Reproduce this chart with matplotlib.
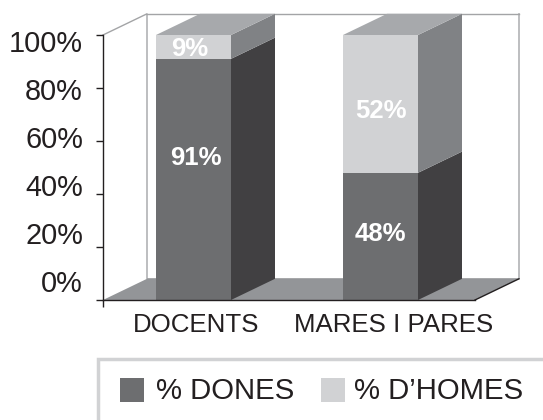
import matplotlib
matplotlib.use("Agg")
import matplotlib.pyplot as plt
from matplotlib.patches import Polygon, Rectangle

categories = ["DOCENTS", "MARES I PARES"]
dones = [91, 48]
homes = [9, 52]
series_names = ["% DONES", "% D\u2019HOMES"]
y_ticks = [0, 20, 40, 60, 80, 100]
y_tick_labels = ["0%", "20%", "40%", "60%", "80%", "100%"]

W, H = 543, 420
plt.rcParams["font.family"] = ["Liberation Sans", "DejaVu Sans"]
fig = plt.figure(figsize=(W / 100, H / 100), dpi=100)
ax = fig.add_axes([103 / W, 1 - 300 / H, (475 - 103) / W, (300 - 35) / H])

unit = 187.0
ax.set_xlim((103 - 193.5) / unit, (475 - 193.5) / unit)
ax.set_ylim(0, 100)
DX = 44 / unit
DY = 8.0
BW = 75 / unit
x0, x1 = ax.get_xlim()

DARK, DARK_SIDE = "#6d6e70", "#414042"
LIGHT, LIGHT_SIDE = "#d1d2d4", "#808285"
TOP, FLOOR = "#a7a9ac", "#939598"
WALL = "#a3a4a6"
INK = "#231f20"

def poly(pts, color, z):
    ax.add_patch(Polygon(pts, closed=True, fc=color, ec="none", zorder=z, clip_on=False))

# floor and walls
poly([(x0, 0), (x1, 0), (x1 + DX, DY), (x0 + DX, DY)], FLOOR, 1)
ax.plot([x0, x0 + DX, x0 + DX, x1 + DX, x1 + DX], [100, 100 + DY, DY, DY, 100 + DY],
        color=WALL, lw=1.0, clip_on=False, zorder=0.5)
ax.plot([x0 + DX, x1 + DX], [100 + DY, 100 + DY], color=WALL, lw=1.0, clip_on=False, zorder=0.5)

# bars
d_offset = [8, 1]
d_dx = [0.015, 0.0]
h_offset = [-0.75, -2.5]
h_dx = [-0.02, 0.003]
for i, (d, h) in enumerate(zip(dones, homes)):
    l, r = i - BW / 2, i + BW / 2
    t = d + h
    ax.bar(i, d, BW, color=DARK, zorder=3)
    ax.bar(i, h, BW, bottom=d, color=LIGHT, zorder=3, clip_on=False)
    poly([(r, 0), (r + DX, DY), (r + DX, d + DY), (r, d)], DARK_SIDE, 2)
    poly([(r, d), (r + DX, d + DY), (r + DX, t + DY), (r, t)], LIGHT_SIDE, 2)
    poly([(l, t), (r, t), (r + DX, t + DY), (l + DX, t + DY)], TOP, 2)
    ax.text(i + d_dx[i], d / 2 + d_offset[i], f"{d}%", color="white", fontsize=18.5,
            fontweight="bold", ha="center", va="center", zorder=4)
    ax.text(i + h_dx[i], d + h / 2 + h_offset[i], f"{h}%",
            color="white", fontsize=18.5, fontweight="bold", ha="center", va="center",
            zorder=4, clip_on=False)

# axes
for s in ax.spines.values():
    s.set_visible(False)
ax.patch.set_alpha(0)
ax.plot([x0, x0], [0, 100], color=INK, lw=1.0, clip_on=False, zorder=5)
ax.plot([x0, x1], [0, 0], color=INK, lw=1.0, clip_on=False, zorder=5)
ax.plot([x1, x1 + DX], [0, DY], color=INK, lw=1.0, clip_on=False, zorder=5)
ax.set_yticks(y_ticks)
ax.set_yticklabels([])
ax.tick_params(axis="y", length=5, width=1, color=INK)
ax.set_xticks([x0])
ax.set_xticklabels([])
ax.tick_params(axis="x", length=5, width=1, color=INK)

label_y = [284, 236, 188, 140, 92, 44]
for lab, py in zip(y_tick_labels, label_y):
    fig.text(83 / W, 1 - py / H, lab, ha="right", va="center", fontsize=20.8, color=INK)

for i, c in enumerate(categories):
    cx = [196.5, 394][i]
    fig.text(cx / W, 1 - 325 / H, c, ha="center", va="center", fontsize=18.6, color=INK)

# legend box
fig.add_artist(Rectangle((97.5 / W, -10 / H), 500 / W, (420 - 358.5 + 10) / H, transform=fig.transFigure,
                         fc="white", ec="#d1d2d4", lw=2.5))
for px, col, name, tx in [(120, DARK, series_names[0], 156), (321, LIGHT, series_names[1], 354)]:
    fig.add_artist(Rectangle((px / W, 1 - 402 / H), 24 / W, 24 / H, transform=fig.transFigure, fc=col, ec="none"))
    fig.text(tx / W, 1 - 391 / H, name, ha="left", va="center", fontsize=21.2, color=INK)

fig.savefig("out.png", dpi=100)
